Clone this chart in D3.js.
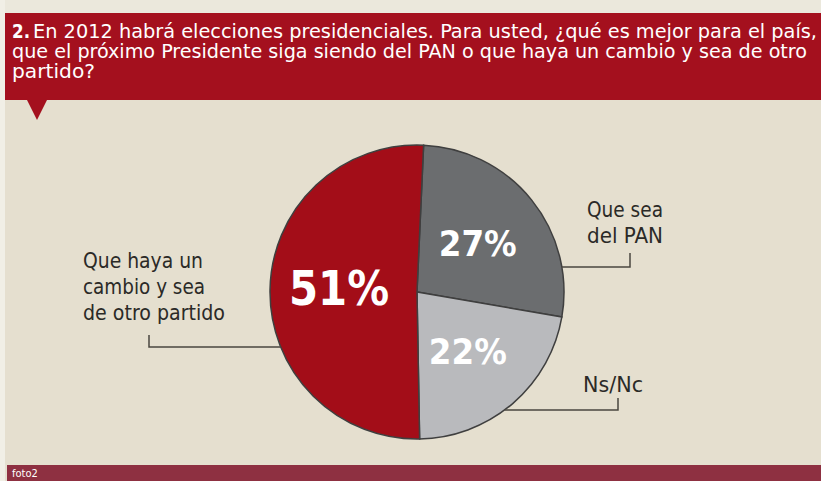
<!DOCTYPE html>
<html>
<head>
<meta charset="utf-8">
<script src="https://cdn.jsdelivr.net/npm/d3@7"></script>
<style>
  body { margin: 0; background: #e5dfcf; }
  svg { display: block; }
  .cond { font-family: "Liberation Sans Narrow", "DejaVu Sans Condensed", "Open Sans", sans-serif; }
</style>
</head>
<body>
<script>
// Encuesta: 2012 elecciones
var categories = ["Que sea del PAN", "Ns/Nc", "Que haya un cambio y sea de otro partido"];
var values = [27, 22, 51];
var sliceColours = ["#6b6d6f", "#b9babd", "#a30d18"];
var titleNumber = "2.";
var titleLines = [
    "En 2012 habrá elecciones presidenciales. Para usted, ¿qué es mejor para el país,",
    "que el próximo Presidente siga siendo del PAN o que haya un cambio y sea de otro",
    "partido?"
];
// label lines for each slice, same order as categories
var labelLines = [["Que sea", "del PAN"], ["Ns/Nc"], ["Que haya un", "cambio y sea", "de otro partido"]];

var width = 821, height = 481;
var cx = 417, cy = 292, radius = 147;

var svg = d3.select("body").append("svg")
    .attr("width", width)
    .attr("height", height);

// Background
svg.append("rect").attr("width", width).attr("height", height).attr("fill", "#e5dfcf");
svg.append("rect").attr("width", width).attr("height", 13).attr("fill", "#ebe8dc");
svg.append("rect").attr("width", 5).attr("height", height).attr("fill", "#f1efe6");

// Title bar with pointer
svg.append("path")
    .attr("d", "M5,13 H821 V100 H47 L37,120 L27,100 H5 Z")
    .attr("fill", "#a4101e");

var titleWidths = [784, 795, 83];
titleLines.forEach(function (t, i) {
    var line = svg.append("text")
        .attr("class", "cond")
        .attr("fill", "#ffffff")
        .style("font-size", "19px")
        .attr("y", 38 + i * 20);
    if (i === 0) {
        line.append("tspan")
            .attr("x", 12)
            .style("font-weight", "bold")
            .attr("textLength", 18)
            .attr("lengthAdjust", "spacingAndGlyphs")
            .text(titleNumber);
    }
    line.append("tspan")
        .attr("x", i === 0 ? 33 : 12)
        .attr("textLength", titleWidths[i])
        .attr("lengthAdjust", "spacingAndGlyphs")
        .text(t);
});

// Footer
svg.append("rect").attr("x", 7).attr("y", 465).attr("width", width - 7).attr("height", 16).attr("fill", "#8e3041");
svg.append("text")
    .attr("class", "cond")
    .attr("x", 12).attr("y", 477)
    .attr("fill", "#ffffff")
    .style("font-size", "11px")
    .text("foto2");

// Pie
var startOffset = 0.045;
var pie = d3.pie().sort(null)
    .startAngle(startOffset)
    .endAngle(startOffset + 2 * Math.PI);
var arcs = pie(values);
var arc = d3.arc().innerRadius(0).outerRadius(radius);
var labelArc = d3.arc().innerRadius(78).outerRadius(78);

var g = svg.append("g").attr("transform", "translate(" + cx + "," + cy + ")");

g.selectAll("path.slice")
    .data(arcs)
    .enter()
    .append("path")
    .attr("class", "slice")
    .attr("d", arc)
    .attr("fill", function (d, i) { return sliceColours[i]; })
    .attr("stroke", "#3f3f3f")
    .attr("stroke-width", 1.5);

var pctSizes = [36, 36, 48];
var pctWidths = [78, 78, 100];
g.selectAll("text.pct")
    .data(arcs)
    .enter()
    .append("text")
    .attr("class", "pct")
    .attr("transform", function (d) {
        var c = labelArc.centroid(d);
        return "translate(" + c[0] + "," + c[1] + ")";
    })
    .attr("text-anchor", "middle")
    .attr("dy", function (d, i) { return i === 2 ? "0.3em" : "0.35em"; })
    .attr("fill", "#ffffff")
    .attr("textLength", function (d, i) { return pctWidths[i]; })
    .attr("lengthAdjust", "spacingAndGlyphs")
    .style("font-family", "'Liberation Sans Narrow', 'DejaVu Sans Condensed', 'Open Sans', sans-serif")
    .style("font-weight", "bold")
    .style("font-size", function (d, i) { return pctSizes[i] + "px"; })
    .text(function (d) { return d.data + "%"; });

// Outside labels and leader lines
var labelPos = [
    { x: 587, y: 217, lineY: 267, tickX: 630, tickTop: 253, side: 1, w: [76, 76] },
    { x: 583, y: 392, lineY: 410, tickX: 618, tickTop: 398, side: 1, w: [60] },
    { x: 83, y: 268, lineY: 347, tickX: 149, tickTop: 335, side: -1, w: [120, 122, 142] }
];

labelLines.forEach(function (lines, i) {
    var p = labelPos[i];
    var t = svg.append("text")
        .attr("class", "cond")
        .attr("fill", "#2b2a27")
        .style("font-size", "22px");
    lines.forEach(function (s, j) {
        t.append("tspan")
            .attr("x", p.x)
            .attr("y", p.y + j * 26)
            .attr("textLength", p.w[j])
            .attr("lengthAdjust", "spacingAndGlyphs")
            .text(s);
    });
    var dy = p.lineY - cy;
    var edgeX = cx + p.side * Math.sqrt(radius * radius - dy * dy);
    svg.append("path")
        .attr("d", "M" + edgeX + "," + p.lineY + " H" + p.tickX + " V" + p.tickTop)
        .attr("fill", "none")
        .attr("stroke", "#4a4740")
        .attr("stroke-width", 1.5);
});
</script>
</body>
</html>
